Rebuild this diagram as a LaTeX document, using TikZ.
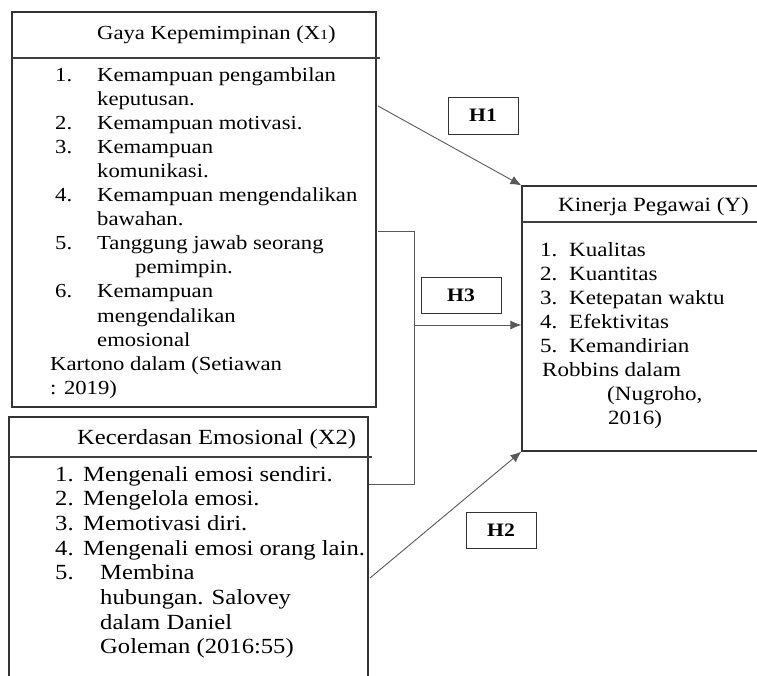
\documentclass[tikz,border=0pt]{standalone}
\usepackage{fontspec}
\setmainfont{Liberation Serif}[FakeStretch=1.14]
\usetikzlibrary{arrows.meta}
\newcommand\nbx[2]{\makebox[#1][l]{#2}}
\begin{document}
\begin{tikzpicture}[x=1pt,y=-1pt,
  frame/.style={draw=black!80,line width=1.1pt,inner sep=0pt},
  rule/.style={draw=black!75,line width=1.1pt},
  hbox/.style={draw=black!80,line width=1pt,inner sep=0pt,font=\fontsize{19}{22}\selectfont\bfseries},
  ta/.style={anchor=base west,inner sep=0pt,font=\fontsize{19.9}{24}\selectfont},
  tb/.style={anchor=base west,inner sep=0pt,font=\fontsize{21.6}{24}\selectfont},
  tc/.style={anchor=base west,inner sep=0pt,font=\fontsize{20.2}{24}\selectfont},
  conn/.style={draw=black!65,line width=0.9pt},
  arr/.style={conn,-{Latex[length=11pt,width=9pt]}}]
\useasboundingbox (0,0) rectangle (757,675);
\clip (0,0) rectangle (757,675);
% boxes
\node[frame,minimum width=364pt,minimum height=395pt] (x1) at (194,209.5) {};
\node[frame,minimum width=359pt,minimum height=273pt] (x2) at (188.5,553.5) {};
\node[frame,minimum width=248pt,minimum height=265pt] (y) at (646,318.5) {};
\draw[rule] (12,58) -- (380,58);
\draw[rule] (9,457) -- (372,457);
\draw[rule] (522,222) -- (770,222);
% X1 text
\node[ta] (x1h) at (97,39) {Gaya Kepemimpinan (X{\fontsize{14}{14}\selectfont 1})};
\node[ta] (a0) at (55,81) {\nbx{42pt}{1.}Kemampuan pengambilan};
\node[ta] (a1) at (97,105.1) {keputusan.};
\node[ta] (a2) at (55,129.2) {\nbx{42pt}{2.}Kemampuan motivasi.};
\node[ta] (a3) at (55,153.3) {\nbx{42pt}{3.}Kemampuan};
\node[ta] (a4) at (97,177.4) {komunikasi.};
\node[ta] (a5) at (55,201.5) {\nbx{42pt}{4.}Kemampuan mengendalikan};
\node[ta] (a6) at (97,225.6) {bawahan.};
\node[ta] (a7) at (55,249.7) {\nbx{42pt}{5.}Tanggung jawab seorang};
\node[ta] (a8) at (135,273.8) {pemimpin.};
\node[ta] (a9) at (55,297.9) {\nbx{42pt}{6.}Kemampuan};
\node[ta] (a10) at (97,322) {mengendalikan};
\node[ta] (a11) at (97,346.1) {emosional};
\node[ta] (a12) at (50,370.2) {Kartono dalam (Setiawan};
\node[ta] (a13) at (50,394.3) {: 2019)};
% X2 text
\node[tb] (x2h) at (77,444) {Kecerdasan Emosional (X2)};
\node[tb] (b0) at (55,481) {\nbx{28pt}{1.}Mengenali emosi sendiri.};
\node[tb] (b1) at (55,505.7) {\nbx{28pt}{2.}Mengelola emosi.};
\node[tb] (b2) at (55,530.4) {\nbx{28pt}{3.}Memotivasi diri.};
\node[tb] (b3) at (55,555.1) {\nbx{28pt}{4.}Mengenali emosi orang lain.};
\node[tb] (b4) at (55,579.8) {\nbx{45pt}{5.}Membina};
\node[tb] (b5) at (100,604.5) {hubungan. Salovey};
\node[tb] (b6) at (100,629.2) {dalam Daniel};
\node[tb] (b7) at (100,653.9) {Goleman (2016:55)};
% Y text
\node[tc] (yh) at (558,211) {Kinerja Pegawai (Y)};
\node[tc] (c0) at (540,256) {\nbx{29pt}{1.}Kualitas};
\node[tc] (c1) at (540,280) {\nbx{29pt}{2.}Kuantitas};
\node[tc] (c2) at (540,304) {\nbx{29pt}{3.}Ketepatan waktu};
\node[tc] (c3) at (540,328) {\nbx{29pt}{4.}Efektivitas};
\node[tc] (c4) at (540,352) {\nbx{29pt}{5.}Kemandirian};
\node[tc] (c5) at (542,376) {Robbins dalam};
\node[tc] (c6) at (607,400) {(Nugroho,};
\node[tc] (c7) at (608,424) {2016)};
% hypothesis labels
\node[hbox,minimum width=70pt,minimum height=37pt] (h1) at (483,115.5) {H1};
\node[hbox,minimum width=80pt,minimum height=36pt] (h3) at (461,295) {H3};
\node[hbox,minimum width=70pt,minimum height=36pt] (h2) at (501,530) {H2};
% connectors
\coordinate (h1s) at (378,106);
\draw[arr] (h1s) -- (y.north west);
\coordinate (h3a) at (378,231);
\coordinate (h3b) at (414,484);
\coordinate (h3m) at (414,325);
\draw[conn] (h3a) -| (h3b) -- (x2.east |- h3b);
\draw[arr] (h3m) -- (y.west |- h3m);
\coordinate (h2s) at (370,578);
\draw[arr] (h2s) -- (y.south west);
\end{tikzpicture}
\end{document}
